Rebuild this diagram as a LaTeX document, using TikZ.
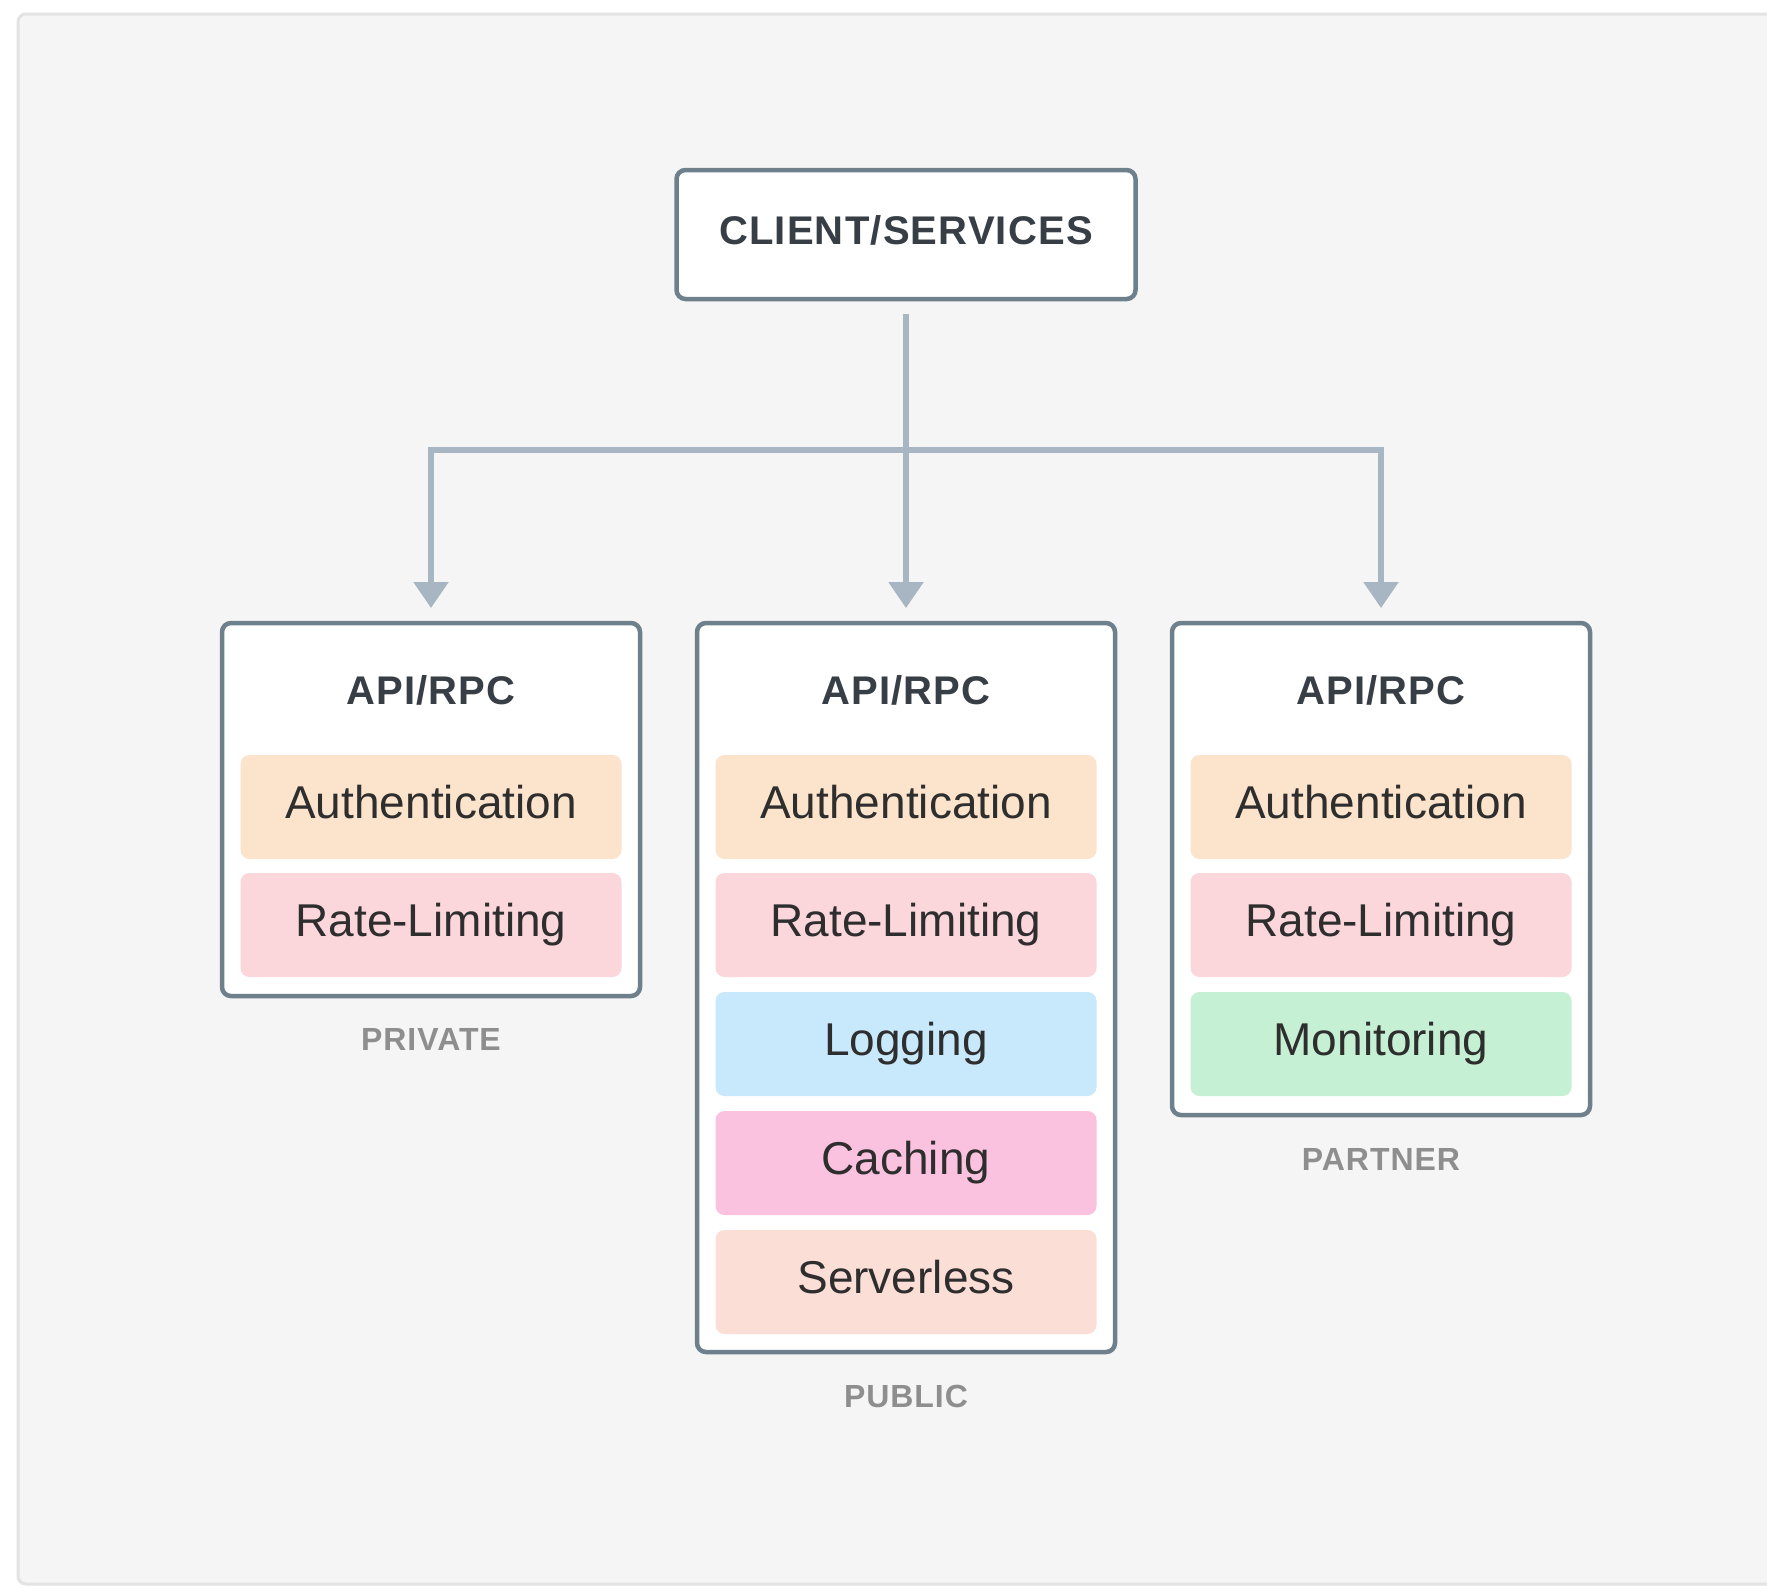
\documentclass[tikz,border=0pt]{standalone}
\usepackage{fontspec}
\setmainfont{Liberation Sans}
\newfontfamily\titlefont{Liberation Sans}[LetterSpace=3]
\usetikzlibrary{arrows.meta}
\definecolor{bgpanel}{HTML}{F5F5F5}
\definecolor{bgedge}{HTML}{E3E3E3}
\definecolor{boxedge}{HTML}{6F808D}
\definecolor{conncol}{HTML}{A7B6C2}
\definecolor{titlecol}{HTML}{373E45}
\definecolor{bodycol}{HTML}{2E2E2E}
\definecolor{labcol}{HTML}{8E8E8E}
\definecolor{authcol}{HTML}{FBE3CC}
\definecolor{ratecol}{HTML}{FBD7DC}
\definecolor{logcol}{HTML}{C8E8FB}
\definecolor{cachecol}{HTML}{FBC2E0}
\definecolor{servcol}{HTML}{FBDED6}
\definecolor{moncol}{HTML}{C6F0D4}
\tikzset{
  x=1pt, y=-1pt,
  outerbox/.style={draw=boxedge, line width=4.5pt, fill=white, rounded corners=9pt,
    minimum width=418pt, inner sep=0pt, outer sep=0pt},
  clientbox/.style={draw=boxedge, line width=4.5pt, fill=white, rounded corners=9pt,
    minimum width=459pt, minimum height=129pt, inner sep=0pt, outer sep=0pt,
    text height=29pt, text depth=10pt,
    font=\titlefont\bfseries\fontsize{40}{44}\selectfont, text=titlecol},
  titletext/.style={font=\titlefont\bfseries\fontsize{40}{44}\selectfont, text=titlecol, inner sep=0pt},
  layer/.style={rounded corners=9pt, minimum width=381pt, minimum height=104pt,
    inner sep=0pt, outer sep=0pt, text height=33pt, text depth=10pt,
    font=\fontsize{46}{50}\selectfont, text=bodycol},
  tierlabel/.style={font=\titlefont\bfseries\fontsize{32}{36}\selectfont, text=labcol, inner sep=0pt},
  conn/.style={draw=conncol, line width=5.5pt, line join=miter,
    -{Triangle[width=34pt,length=26pt]}},
}
\begin{document}
\begin{tikzpicture}
\useasboundingbox (0,0) rectangle (1767,1591);
\begin{scope}
\clip (0,0) rectangle (1767,1591);
\fill[white] (0,0) rectangle (1767,1591);
\draw[bgedge, fill=bgpanel, line width=3pt, rounded corners=8pt] (18,14) rectangle (1800,1584);
\end{scope}

% client
\node[clientbox] (client) at (906,234.5) {CLIENT/SERVICES};

% outer boxes
\node[outerbox, minimum height=373pt] (priv) at (431,809.5) {};
\node[outerbox, minimum height=729pt] (pub) at (906,987.5) {};
\node[outerbox, minimum height=492pt] (part) at (1381,869) {};

% titles
\node[titletext] (t1) at (431,690) {API/RPC};
\node[titletext] (t2) at (906,690) {API/RPC};
\node[titletext] (t3) at (1381,690) {API/RPC};

% layers: private
\node[layer, fill=authcol] (pa) at (431,807) {Authentication};
\node[layer, fill=ratecol] (pr) at (431,925) {Rate-Limiting};
% public
\node[layer, fill=authcol] (ua) at (906,807) {Authentication};
\node[layer, fill=ratecol] (ur) at (906,925) {Rate-Limiting};
\node[layer, fill=logcol] (ul) at (906,1044) {Logging};
\node[layer, fill=cachecol] (uc) at (906,1163) {Caching};
\node[layer, fill=servcol] (us) at (906,1282) {Serverless};
% partner
\node[layer, fill=authcol] (ra) at (1381,807) {Authentication};
\node[layer, fill=ratecol] (rr) at (1381,925) {Rate-Limiting};
\node[layer, fill=moncol] (rm) at (1381,1044) {Monitoring};

% tier labels
\node[tierlabel] (l1) at (431,1039) {PRIVATE};
\node[tierlabel] (l2) at (906,1396) {PUBLIC};
\node[tierlabel] (l3) at (1381,1159) {PARTNER};

% connectors
\coordinate (jn) at (906,450);
\draw[conn] ([yshift=-15pt]client.south) -- ([yshift=15pt]pub.north);
\draw[conn] (jn) -| ([yshift=15pt]priv.north);
\draw[conn] (jn) -| ([yshift=15pt]part.north);
\end{tikzpicture}
\end{document}
